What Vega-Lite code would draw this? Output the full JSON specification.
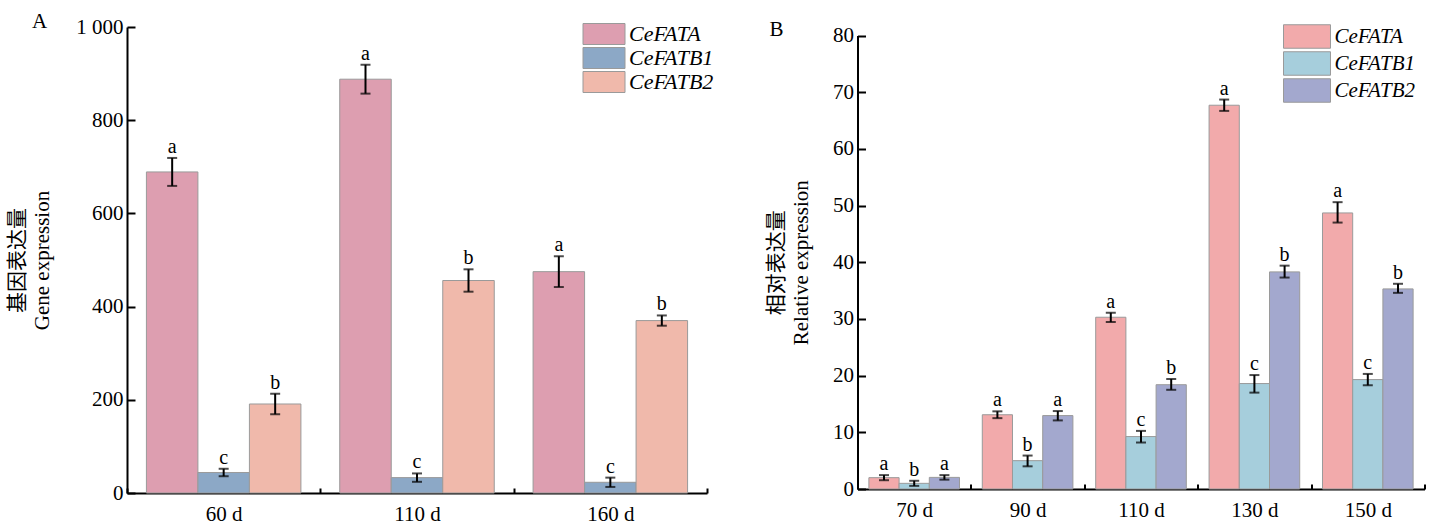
{
  "$schema": "https://vega.github.io/schema/vega-lite/v6.json",
  "background": "white",
  "padding": {"left": 6, "top": 11, "right": 5, "bottom": 5},
  "spacing": 50.5,
  "config": {
    "view": {"stroke": null},
    "font": "Liberation Serif",
    "axis": {
      "grid": false,
      "domainColor": "black",
      "domainWidth": 2,
      "tickColor": "black",
      "tickWidth": 2,
      "labelFont": "Liberation Serif",
      "labelFontSize": 21,
      "labelColor": "black",
      "titleFont": "Liberation Serif, Noto Sans CJK SC",
      "titleFontSize": 21,
      "titleFontWeight": "normal",
      "titleColor": "black",
      "titleLineHeight": 25
    },
    "legend": {
      "orient": "none",
      "title": null,
      "padding": 0,
      "symbolType": "M-2,-1H2V1H-2Z",
      "symbolStrokeColor": "#9a9a9a",
      "symbolStrokeWidth": 1,
      "symbolOpacity": 1,
      "labelFont": "Liberation Serif",
      "labelFontStyle": "italic",
      "labelColor": "black"
    },
    "title": {"font": "Liberation Serif", "fontSize": 21, "fontWeight": "normal", "color": "black", "anchor": "start", "frame": "group"}
  },
  "datasets": {
    "a": [
      {"day": "60 d", "gene": "CeFATA", "v": 689, "lo": 659, "hi": 719, "sig": "a"},
      {"day": "60 d", "gene": "CeFATB1", "v": 44, "lo": 36, "hi": 52, "sig": "c"},
      {"day": "60 d", "gene": "CeFATB2", "v": 191, "lo": 169, "hi": 213, "sig": "b"},
      {"day": "110 d", "gene": "CeFATA", "v": 888, "lo": 857, "hi": 919, "sig": "a"},
      {"day": "110 d", "gene": "CeFATB1", "v": 33, "lo": 24, "hi": 42, "sig": "c"},
      {"day": "110 d", "gene": "CeFATB2", "v": 456, "lo": 432, "hi": 480, "sig": "b"},
      {"day": "160 d", "gene": "CeFATA", "v": 475, "lo": 442, "hi": 508, "sig": "a"},
      {"day": "160 d", "gene": "CeFATB1", "v": 23, "lo": 13, "hi": 33, "sig": "c"},
      {"day": "160 d", "gene": "CeFATB2", "v": 370, "lo": 359, "hi": 381, "sig": "b"}
    ],
    "b": [
      {"day": "70 d", "gene": "CeFATA", "v": 2.0, "lo": 1.55, "hi": 2.45, "sig": "a"},
      {"day": "70 d", "gene": "CeFATB1", "v": 1.0, "lo": 0.55, "hi": 1.45, "sig": "b"},
      {"day": "70 d", "gene": "CeFATB2", "v": 2.05, "lo": 1.65, "hi": 2.45, "sig": "a"},
      {"day": "90 d", "gene": "CeFATA", "v": 13.1, "lo": 12.5, "hi": 13.7, "sig": "a"},
      {"day": "90 d", "gene": "CeFATB1", "v": 5.0, "lo": 4.0, "hi": 5.9, "sig": "b"},
      {"day": "90 d", "gene": "CeFATB2", "v": 12.95, "lo": 12.1, "hi": 13.75, "sig": "a"},
      {"day": "110 d", "gene": "CeFATA", "v": 30.3, "lo": 29.45, "hi": 31.1, "sig": "a"},
      {"day": "110 d", "gene": "CeFATB1", "v": 9.25, "lo": 8.2, "hi": 10.25, "sig": "c"},
      {"day": "110 d", "gene": "CeFATB2", "v": 18.4, "lo": 17.5, "hi": 19.4, "sig": "b"},
      {"day": "130 d", "gene": "CeFATA", "v": 67.7, "lo": 66.7, "hi": 68.7, "sig": "a"},
      {"day": "130 d", "gene": "CeFATB1", "v": 18.6, "lo": 17.0, "hi": 20.1, "sig": "c"},
      {"day": "130 d", "gene": "CeFATB2", "v": 38.3, "lo": 37.3, "hi": 39.4, "sig": "b"},
      {"day": "150 d", "gene": "CeFATA", "v": 48.7, "lo": 47.0, "hi": 50.6, "sig": "a"},
      {"day": "150 d", "gene": "CeFATB1", "v": 19.3, "lo": 18.3, "hi": 20.3, "sig": "c"},
      {"day": "150 d", "gene": "CeFATB2", "v": 35.3, "lo": 34.6, "hi": 36.2, "sig": "b"}
    ]
  },
  "hconcat": [
    {
      "title": {"text": "A", "dx": -95, "offset": -16},
      "width": 580,
      "height": 466,
      "data": {"name": "a"},
      "encoding": {
        "x": {
          "field": "day", "type": "nominal", "sort": ["60 d", "110 d", "160 d"], "title": null,
          "scale": {"paddingInner": 0, "paddingOuter": 0},
          "axis": {"labelAngle": 0, "tickBand": "extent", "tickSize": -5, "labelPadding": 15}
        },
        "xOffset": {
          "field": "gene", "type": "nominal", "sort": ["CeFATA", "CeFATB1", "CeFATB2"],
          "scale": {"paddingInner": 0, "paddingOuter": 0.377}
        }
      },
      "layer": [
        {
          "mark": {"type": "bar", "stroke": "#9a9a9a", "strokeWidth": 1},
          "encoding": {
            "y": {
              "field": "v", "type": "quantitative", "title": ["基因表达量", "Gene expression"],
              "scale": {"domain": [0, 1000], "nice": false},
              "axis": {"values": [0, 200, 400, 600, 800, 1000], "tickSize": -8, "labelPadding": 12, "titlePadding": 23,
                       "labelFontSize": 21, "labelExpr": "replace(format(datum.value, ','), ',', ' ')"}
            },
            "color": {
              "field": "gene", "type": "nominal", "sort": ["CeFATA", "CeFATB1", "CeFATB2"],
              "scale": {"range": ["#dd9eb0", "#8ca8c6", "#f0b9ab"]},
              "legend": {"legendX": 466, "legendY": -4, "symbolSize": 441, "labelFontSize": 22, "rowPadding": -3, "labelOffset": 14}
            }
          }
        },
        {
          "mark": {"type": "rule", "color": "black", "strokeWidth": 2},
          "encoding": {"y": {"field": "lo", "type": "quantitative"}, "y2": {"field": "hi"}}
        },
        {
          "mark": {"type": "tick", "color": "black", "thickness": 2, "size": 10},
          "encoding": {"y": {"field": "lo", "type": "quantitative"}}
        },
        {
          "mark": {"type": "tick", "color": "black", "thickness": 2, "size": 10},
          "encoding": {"y": {"field": "hi", "type": "quantitative"}}
        },
        {
          "mark": {"type": "text", "baseline": "alphabetic", "dy": -5, "fontSize": 20, "color": "black"},
          "encoding": {"y": {"field": "hi", "type": "quantitative"}, "text": {"field": "sig"}}
        }
      ]
    },
    {
      "title": {"text": "B", "dx": -88, "offset": -16},
      "width": 567,
      "height": 462,
      "data": {"name": "b"},
      "encoding": {
        "x": {
          "field": "day", "type": "nominal", "sort": ["70 d", "90 d", "110 d", "130 d", "150 d"], "title": null,
          "scale": {"paddingInner": 0, "paddingOuter": 0},
          "axis": {"labelAngle": 0, "tickBand": "extent", "tickSize": -5, "labelPadding": 15}
        },
        "xOffset": {
          "field": "gene", "type": "nominal", "sort": ["CeFATA", "CeFATB1", "CeFATB2"],
          "scale": {"paddingInner": 0, "paddingOuter": 0.377}
        }
      },
      "layer": [
        {
          "mark": {"type": "bar", "stroke": "#9a9a9a", "strokeWidth": 1},
          "encoding": {
            "y": {
              "field": "v", "type": "quantitative", "title": ["相对表达量", "Relative expression"],
              "scale": {"domain": [0, 80], "nice": false, "range": [462, 8.5]},
              "axis": {"values": [0, 10, 20, 30, 40, 50, 60, 70, 80], "tickSize": -8, "labelPadding": 12, "titlePadding": 21.5}
            },
            "color": {
              "field": "gene", "type": "nominal", "sort": ["CeFATA", "CeFATB1", "CeFATB2"],
              "scale": {"range": ["#f2aaab", "#a6cedc", "#a3a8ce"]},
              "legend": {"legendX": 437, "legendY": -3, "symbolSize": 552, "labelFontSize": 21, "rowPadding": -3, "labelOffset": 15}
            }
          }
        },
        {
          "mark": {"type": "rule", "color": "black", "strokeWidth": 2},
          "encoding": {"y": {"field": "lo", "type": "quantitative"}, "y2": {"field": "hi"}}
        },
        {
          "mark": {"type": "tick", "color": "black", "thickness": 2, "size": 10},
          "encoding": {"y": {"field": "lo", "type": "quantitative"}}
        },
        {
          "mark": {"type": "tick", "color": "black", "thickness": 2, "size": 10},
          "encoding": {"y": {"field": "hi", "type": "quantitative"}}
        },
        {
          "mark": {"type": "text", "baseline": "alphabetic", "dy": -5, "fontSize": 20, "color": "black"},
          "encoding": {"y": {"field": "hi", "type": "quantitative"}, "text": {"field": "sig"}}
        }
      ]
    }
  ],
  "resolve": {"scale": {"color": "independent", "x": "independent", "xOffset": "independent", "y": "independent"}}
}
